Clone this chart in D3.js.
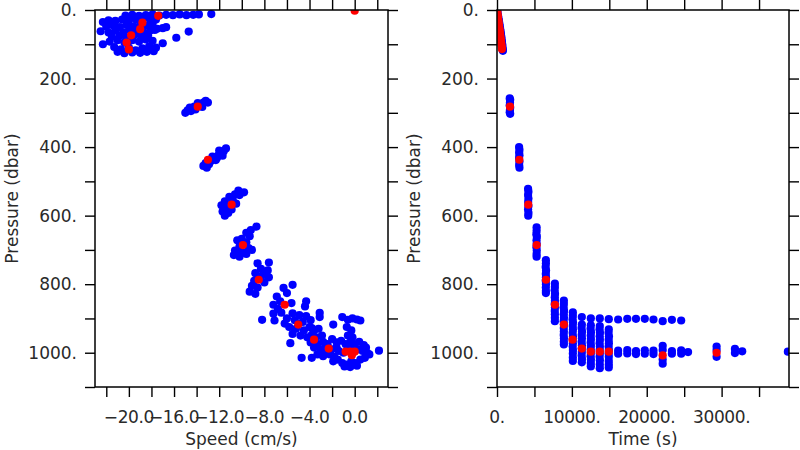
<!DOCTYPE html>
<html>
<head>
<meta charset="utf-8">
<script src="https://cdn.jsdelivr.net/npm/d3@7"></script>
<style>
  html, body { margin: 0; padding: 0; background: #fff; }
  svg text { font-family: "DejaVu Sans", sans-serif; fill: #2a2a2a; }
</style>
</head>
<body>
<svg id="chart" width="800" height="450"></svg>
<script>
// ---------- data ----------
const pressureTicks = [0,100,200,300,400,500,600,700,800,900,1000,1100];
const pressureLabels = [0,200,400,600,800,1000];
const speedTicks = [-22,-20,-18,-16,-14,-12,-10,-8,-6,-4,-2,0,2];
const speedLabels = [-20,-16,-12,-8,-4,0];
const timeTicks = [0,5000,10000,15000,20000,25000,30000,35000];
const timeLabels = [0,10000,20000,30000];

// Left panel: [speed (cm/s), pressure (dbar)]
const speedBlue = [
  [-20.3,16],[-19.7,14],[-19.1,17],[-18.5,15],[-17.9,13],[-17.3,16],[-16.7,14],[-16.1,15],[-15.5,13],[-14.9,15],[-14.3,14],[-13.8,13],[-12.7,12],
  [-22.3,35],[-21.8,30],[-21.2,32],[-20.6,28],[-20.0,30],[-19.4,27],[-18.8,30],[-18.2,25],[-17.6,28],
  [-22.0,48],[-21.4,45],[-20.8,50],[-20.2,44],[-19.6,48],[-19.0,42],[-18.4,46],[-17.9,40],
  [-22.5,62],[-21.8,66],[-21.2,60],[-20.5,65],[-19.9,58],[-19.3,62],[-18.7,66],[-18.1,60],[-17.5,55],
  [-21.5,78],[-20.8,75],[-20.2,80],[-19.5,72],[-18.9,78],[-18.3,74],
  [-17.0,53],[-16.7,50],[-15.8,81],[-14.7,63],[-17.0,97],[-17.7,58],
  [-22.3,100],[-21.7,92],[-21.0,88],[-20.4,95],[-19.7,88],[-19.1,92],[-18.5,86],[-17.9,90],
  [-21.3,108],[-20.7,115],[-20.0,110],[-19.4,118],[-18.8,112],[-18.2,106],[-17.6,110],
  [-21.0,122],[-20.4,126],[-19.7,124],[-19.0,125],[-18.4,122],[-17.8,120],
  [-15.0,300],[-14.8,293],[-14.5,295],[-14.3,288],[-14.1,290],[-13.8,280],[-13.6,276],[-13.4,270],[-13.2,265],[-13.0,270],[-14.6,285],[-13.9,272],[-14.2,282],[-13.5,283],
  [-13.4,455],[-13.2,447],[-12.9,450],[-12.7,440],[-12.5,432],[-12.3,438],[-12.1,425],[-11.9,420],[-11.6,412],[-11.4,404],[-12.0,410],[-12.6,428],[-13.1,460],[-12.2,432],[-11.7,425],
  [-10.3,527],[-9.8,532],[-10.6,538],[-11.1,545],[-11.5,558],[-10.8,555],[-11.8,570],[-11.3,575],[-10.5,565],[-11.7,588],[-11.2,592],[-10.9,582],[-11.5,600],[-10.2,540],
  [-8.7,632],[-9.2,642],[-9.6,650],[-9.3,660],[-10.0,668],[-10.4,672],[-9.6,678],[-10.2,690],[-9.4,695],[-10.6,702],[-10.0,706],[-9.1,700],[-10.7,715],[-10.2,720],[-9.6,712],
  [-8.6,739],[-7.6,737],[-8.3,755],[-7.9,765],[-8.8,768],[-8.2,775],[-7.6,780],[-8.9,790],[-8.0,795],[-9.1,805],[-8.6,810],[-9.3,822],[-8.8,828],[-7.7,760],
  [-6.3,811],[-5.5,802],[-6.9,836],[-6.0,826],[-7.2,860],[-6.6,850],[-5.6,855],[-7.2,886],[-6.5,883],[-8.2,904],[-7.1,906],[-6.8,872],
  [-4.3,850],[-4.4,865],[-5.5,885],[-4.9,890],[-4.3,893],[-6.0,900],[-5.3,905],[-4.6,910],[-3.9,905],[-5.8,925],[-5.2,930],[-4.5,935],[-3.8,928],[-5.5,945],[-4.8,950],[-4.2,955],[-6.2,915],
  [-3.1,884],[-3.1,896],[-5.7,972],[-4.7,1015],[-3.8,1015],
  [-4.0,925],[-3.6,935],[-3.2,930],[-3.8,948],[-3.4,955],[-2.9,950],[-3.9,970],[-3.3,975],[-2.8,968],[-3.6,985],[-3.0,990],[-2.6,985],[-3.3,1005],[-2.8,1010],
  [-2.0,960],[-1.6,985],[-1.9,918],
  [-1.1,896],[-0.6,904],[-0.2,900],[0.2,903],[0.5,906],
  [-0.7,925],[-0.3,935],[-0.6,950],[-0.2,955],
  [-2.4,975],[-2.0,990],[-1.6,970],[-1.2,965],[-0.8,975],[-0.4,970],[0.0,975],[0.4,968],[0.8,978],
  [-2.2,1005],[-1.8,1012],[-1.4,995],[-1.0,1000],[-0.5,990],[0.3,990],[0.7,995],[1.1,1000],
  [-1.9,1025],[-1.5,1020],[-1.1,1030],[-0.7,1035],[-0.3,1025],[0.1,1030],[0.5,1020],[0.9,1015],[1.3,1005],
  [-0.9,1040],[-0.4,1042],[0.2,1038],[-2.6,1000],[1.0,985],[2.15,994]
];
const speedRed = [
  [-17.4,17],[-18.8,37],[-19.0,56],[-19.8,74],[-20.2,95],[-20.0,115],[0.0,2],
  [-13.9,282],[-13.0,437],[-10.9,568],[-9.9,686],[-8.5,787],[-6.2,860],[-5.0,918],[-3.6,962],[-2.3,988],
  [-0.8,997],[-0.4,997],[0.0,997],[-0.25,1007]
];

// Right panel: [time (s), pressure (dbar)]
const timeBlue = [
  [40,3],[90,10],[150,18],[200,25],[260,32],[320,40],[380,48],[430,56],[480,63],[530,70],[580,78],[620,86],[660,93],[700,100],[740,108],[770,115],[790,119],
  [1700,258],[1760,262],[1730,270],[1700,278],[1760,285],[1730,292],[1700,298],[1760,303],
  [2950,400],[3000,408],[2960,416],[3000,424],[2950,432],[3000,442],[2960,452],[3000,460],
  [4150,522],[4200,530],[4150,540],[4200,550],[4160,560],[4200,572],[4150,582],[4200,592],[4170,600],
  [5290,634],[5290,644],[5260,654],[5320,662],[5280,672],[5300,682],[5270,692],[5310,702],[5290,712],[5290,720],
  [6530,730],[6530,740],[6500,750],[6550,760],[6520,770],[6540,780],[6510,790],[6540,800],[6520,810],[6530,820],[6530,826],
  [7730,798],[7730,808],[7700,818],[7750,828],[7720,838],[7740,848],[7710,858],[7740,868],[7720,878],[7730,888],[7730,898],[7730,908],
  [8930,848],[8930,858],[8900,868],[8950,878],[8920,888],[8940,898],[8910,908],[8940,918],[8920,928],[8930,938],[8910,948],[8940,958],[8930,968],[8930,976],
  [10130,882],[10130,892],[10100,902],[10150,912],[10120,922],[10140,932],[10110,942],[10140,952],[10120,962],[10130,972],[10110,982],[10140,992],[10130,1002],[10130,1014],[10130,1024],
  [11330,896],[11330,918],[11300,928],[11350,938],[11320,948],[11340,958],[11310,968],[11340,978],[11320,988],[11330,998],[11310,1008],[11340,1018],[11330,1028],
  [12530,900],[12530,920],[12500,930],[12550,940],[12520,950],[12540,960],[12510,970],[12540,980],[12520,990],[12530,1000],[12510,1010],[12540,1020],[12530,1030],[12530,1040],
  [13730,900],[13730,922],[13700,932],[13750,942],[13720,952],[13740,962],[13710,972],[13740,982],[13720,992],[13730,1002],[13710,1012],[13740,1022],[13730,1034],[13730,1045],
  [14930,902],[14930,932],[14900,942],[14950,952],[14920,962],[14940,972],[14910,982],[14940,992],[14920,1002],[14930,1012],[14930,1024],[14930,1034],[14930,1043],
  [16180,903],[17400,901],[18560,901],[19740,901],[20900,903],[22130,908],[23360,904],[24600,906],
  [16180,994],[16180,1003],[17400,992],[17400,1002],[18560,995],[18560,1004],[19740,993],[19740,1003],[20900,994],[20900,1004],
  [22130,980],[22130,992],[22130,1020],[22130,1032],[23360,995],[23360,1003],[24600,993],[24600,1003],[25520,998],
  [29330,982],[29330,992],[29330,1012],[31780,989],[31780,1001],[32750,996],[38850,997]
];
const timeRed = [
  [0,0],[30,5],[60,10],[100,17],[140,23],[180,30],[220,37],[260,44],[300,51],[350,58],[390,65],[430,72],[470,80],[510,87],[550,94],[590,101],[630,108],[660,114],
  [1733,282],[2977,437],[4178,568],[5300,686],[6540,787],[7740,860],[8930,918],[10090,962],[11330,988],
  [12530,997],[13730,997],[14930,997],[22130,1008],[29330,1000]
];

// ---------- drawing ----------
const svg = d3.select("#chart");
const plotTop = 10, plotBottom = 387;
const y = d3.scaleLinear().domain([0, 1100]).range([plotTop, plotBottom]);
const fmtP = d => d + ".";
const fmtS = d => (d < 0 ? "\u2212" + Math.abs(d).toFixed(1) : d.toFixed(1));
const fmtT = d => d + ".";

function panel(cfg) {
  const x = d3.scaleLinear().domain(cfg.domain).range([cfg.left, cfg.right]);
  const g = svg.append("g");
  const clipId = "clip" + cfg.id;
  svg.append("clipPath").attr("id", clipId).append("rect")
    .attr("x", cfg.left).attr("y", plotTop).attr("width", cfg.right - cfg.left).attr("height", plotBottom - plotTop);

  const pts = g.append("g").attr("clip-path", `url(#${clipId})`);
  pts.selectAll("circle.b").data(cfg.blue).join("circle").attr("class", "b")
    .attr("cx", d => x(d[0])).attr("cy", d => y(d[1])).attr("r", 4.1).attr("fill", "#0000ff");
  pts.selectAll("circle.r").data(cfg.red).join("circle").attr("class", "r")
    .attr("cx", d => x(d[0])).attr("cy", d => y(d[1])).attr("r", 4.1).attr("fill", "#ff0000");

  const tl = 10;
  const axL = d3.axisLeft(y).tickValues(pressureTicks).tickSize(tl).tickFormat("");
  const axR = d3.axisRight(y).tickValues(pressureTicks).tickSize(tl).tickFormat("");
  const axB = d3.axisBottom(x).tickValues(cfg.ticks).tickSize(tl).tickFormat("");
  const axT = d3.axisTop(x).tickValues(cfg.ticks).tickSize(tl).tickFormat("");
  const style = sel => { sel.select(".domain").remove(); sel.selectAll("line").attr("stroke", "#000").attr("stroke-width", 1.4); };
  g.append("g").attr("transform", `translate(${cfg.left},0)`).call(axL).call(style);
  g.append("g").attr("transform", `translate(${cfg.right},0)`).call(axR).call(style);
  g.append("g").attr("transform", `translate(0,${plotBottom})`).call(axB).call(style);
  g.append("g").attr("transform", `translate(0,${plotTop})`).call(axT).call(style);

  g.append("rect").attr("x", cfg.left).attr("y", plotTop)
    .attr("width", cfg.right - cfg.left).attr("height", plotBottom - plotTop)
    .attr("fill", "none").attr("stroke", "#000").attr("stroke-width", 1.5);

  g.selectAll("text.yl").data(pressureLabels).join("text").attr("class", "yl")
    .attr("x", cfg.left - 18).attr("y", d => y(d)).attr("dy", "0.36em")
    .attr("text-anchor", "end").attr("font-size", 17).text(fmtP);
  g.selectAll("text.xl").data(cfg.labels).join("text").attr("class", "xl")
    .attr("x", d => x(d)).attr("y", 423)
    .attr("text-anchor", "middle").attr("font-size", 17).attr("letter-spacing", -0.4).text(cfg.fmt);
  g.append("text").attr("x", (cfg.left + cfg.right) / 2).attr("y", 445)
    .attr("text-anchor", "middle").attr("font-size", 17).text(cfg.title);
  g.append("text").attr("transform", `translate(${cfg.left - 77},${(plotTop + plotBottom) / 2}) rotate(-90)`)
    .attr("text-anchor", "middle").attr("font-size", 17).text("Pressure (dbar)");
}

panel({ id: "L", left: 95, right: 388, domain: [-23, 2.95], ticks: speedTicks, labels: speedLabels,
        fmt: fmtS, title: "Speed (cm/s)", blue: speedBlue, red: speedRed });
panel({ id: "R", left: 497, right: 789, domain: [0, 39000], ticks: timeTicks, labels: timeLabels,
        fmt: fmtT, title: "Time (s)", blue: timeBlue, red: timeRed });
</script>
</body>
</html>
